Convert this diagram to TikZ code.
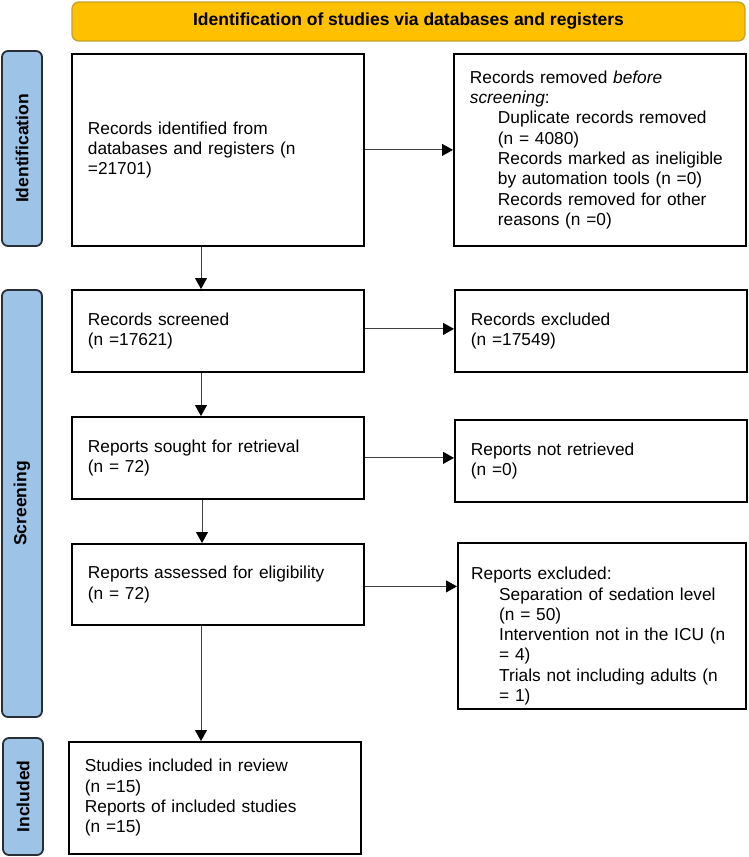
\documentclass[tikz,border=0pt]{standalone}
\usepackage{fontspec}
\setmainfont{Liberation Sans}
\usetikzlibrary{arrows.meta}
\definecolor{gold}{HTML}{FFC000}
\definecolor{goldline}{HTML}{C9A227}
\definecolor{lblue}{HTML}{9DC3E6}
\definecolor{lborder}{HTML}{2A2F36}
\definecolor{arrowgray}{HTML}{404040}
\begin{document}
\begin{tikzpicture}[x=1pt,y=-1pt,
  boxtext/.style={font=\fontsize{17.3}{20.3}\selectfont, align=left},
  box/.style={boxtext, draw=black, line width=1.8pt, fill=white, anchor=north west,
    inner xsep=16pt, inner ysep=0pt},
  txt/.style={boxtext, inner sep=0pt, anchor=north west},
  side/.style={draw=lborder, line width=1.8pt, fill=lblue, rounded corners=6pt,
    inner sep=0pt, rotate=90, font=\bfseries\fontsize{17.5}{20}\selectfont},
  banner/.style={draw=goldline, line width=1.4pt, fill=gold, rounded corners=7pt,
    inner sep=0pt, font=\bfseries\fontsize{17.5}{20}\selectfont},
  arr/.style={draw=arrowgray, line width=1pt, -{Triangle[length=11pt,width=12pt,color=black]}}
]
\useasboundingbox (0,0) rectangle (748,857);

% banner
\node[banner, minimum width=673, minimum height=39] (ban) at (408.5,21.5)
  {Identification of studies via databases and registers};

% side labels
\node[side, minimum width=195, minimum height=40] (lid) at (22,148.5) {Identification};
\node[side, minimum width=427, minimum height=40] (lsc) at (22,503.5) {Screening};
\node[side, minimum width=117, minimum height=40] (lin) at (23,796.5) {Included};

% left column
\node[box, minimum width=292, minimum height=192, text width=260] (b1) at (71,53)
  {Records identified from\\databases and registers (n\\=21701)};
\node[box, minimum width=292, minimum height=82, text width=260] (b3) at (71,289)
  {Records screened\\(n =17621)};
\node[box, minimum width=292, minimum height=82, text width=260] (b4) at (71,416)
  {Reports sought for retrieval\\(n = 72)};
\node[box, minimum width=292, minimum height=81, text width=260] (b5) at (71,543)
  {Reports assessed for eligibility\\(n = 72)};
\node[box, minimum width=292, minimum height=112, text width=260] (b6) at (68,741)
  {Studies included in review\\(n =15)\\Reports of included studies\\(n =15)};

% right column
\node[box, minimum width=292, minimum height=192, text width=260] (b2) at (453,53)
  {Records removed \textit{before}\\\textit{screening}:\\
   \hspace*{28pt}Duplicate records removed\\
   \hspace*{28pt}(n = 4080)\\
   \hspace*{28pt}Records marked as ineligible\\
   \hspace*{28pt}by automation tools (n =0)\\
   \hspace*{28pt}Records removed for other\\
   \hspace*{28pt}reasons (n =0)};
\node[box, minimum width=292, minimum height=82, text width=260] (b3r) at (454,289)
  {Records excluded\\(n =17549)};
\node[box, minimum width=292, minimum height=82, text width=260] (b4r) at (454,419)
  {Reports not retrieved\\(n =0)};
\node[box, minimum width=288, minimum height=166, text width=256] (b5r) at (457,542) {};
\node[txt, text width=260] (t5r) at ([xshift=14pt,yshift=-25pt]b5r.north west)
  {Reports excluded:\\
   \hspace*{28pt}Separation of sedation level\\
   \hspace*{28pt}(n = 50)\\
   \hspace*{28pt}Intervention not in the ICU (n\\
   \hspace*{28pt}= 4)\\
   \hspace*{28pt}Trials not including adults (n\\
   \hspace*{28pt}= 1)};

% arrow column
\coordinate (ax) at (201,0);
\coordinate (ax2) at (202,0);

% vertical arrows
\draw[arr] (b1.south -| ax) -- (b3.north -| ax);
\draw[arr] (b3.south -| ax) -- (b4.north -| ax);
\draw[arr] (b4.south -| ax2) -- (b5.north -| ax2);
\draw[arr] (b5.south -| ax) -- (b6.north -| ax);

% horizontal arrows
\draw[arr] (b1.east) -- (b1.east -| b2.west);
\draw[arr] ([yshift=2pt]b3.east) -- ([yshift=2pt]b3.east -| b3r.west);
\draw[arr] (b4.east) -- (b4.east -| b4r.west);
\draw[arr] ([yshift=-2pt]b5.east) -- ([yshift=-2pt]b5.east -| b5r.west);
\end{tikzpicture}
\end{document}
